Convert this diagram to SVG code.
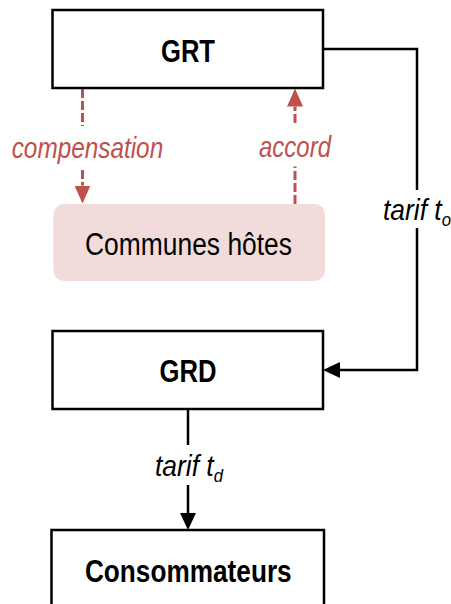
<svg xmlns="http://www.w3.org/2000/svg" width="451" height="604" viewBox="0 0 451 604">
<style>
.box{fill:#ffffff;stroke:#000000;stroke-width:2.5}
.soft{fill:#f2dcdb;stroke:none}
.t{font-family:"Liberation Sans Narrow","Liberation Sans",Arial,sans-serif;font-size:31px;fill:#000000;text-anchor:middle}
.b{font-weight:bold}
.lab{font-family:"Liberation Sans Narrow","Liberation Sans",Arial,sans-serif;font-size:29px;font-style:italic}
.big{font-size:30px}
.sub{font-size:19px}
.red{fill:#c0504d}
.blk{fill:#000000}
.line{fill:none;stroke:#000000;stroke-width:2.5}
.dash{fill:none;stroke:#c0504d;stroke-width:3;stroke-dasharray:9 3}
</style>
<defs>
<marker id="ahk" viewBox="0 0 17 16" refX="0" refY="8" markerWidth="17" markerHeight="16" markerUnits="userSpaceOnUse" orient="auto">
<path d="M0 0 L17 8 L0 16 Z" fill="#000000"/>
</marker>
<marker id="ahr" viewBox="0 0 18 16" refX="0" refY="8" markerWidth="18" markerHeight="16" markerUnits="userSpaceOnUse" orient="auto">
<path d="M0 0 L18 8 L0 16 Z" fill="#c0504d"/>
</marker>
</defs>
<g id="connectors">
<path class="line" d="M323.5 49 H417 V190"/>
<path class="line" d="M417 228 V370 H340" marker-end="url(#ahk)"/>
<path class="line" d="M188 409 V445"/>
<path class="line" d="M188 485 V513" marker-end="url(#ahk)"/>
<path class="dash" d="M82.5 89 V126"/>
<path class="dash" d="M82.5 170 V185.5" marker-end="url(#ahr)"/>
<path class="dash" d="M295 204 V166.5"/>
<path class="dash" d="M295 123 V106.5" marker-end="url(#ahr)"/>
<text class="lab red" x="11.7" y="157.5" textLength="151.5" lengthAdjust="spacingAndGlyphs">compensation</text>
<text class="lab red" x="259" y="157" textLength="72" lengthAdjust="spacingAndGlyphs">accord</text>
<text class="lab big blk" transform="translate(383 220) scale(0.88 1)">tarif t<tspan class="sub" dy="6">o</tspan></text>
<text class="lab big blk" transform="translate(155 476) scale(0.88 1)">tarif t<tspan class="sub" dy="6">d</tspan></text>
</g>
<g id="GRT">
<rect class="box" x="52.5" y="10" width="270.5" height="78"/>
<text class="t b" x="188" y="61.5" textLength="54" lengthAdjust="spacingAndGlyphs">GRT</text>
</g>
<g id="communes">
<rect class="soft" x="53.5" y="204" width="271.5" height="77" rx="10"/>
<text class="t" x="188.5" y="254.5" textLength="207" lengthAdjust="spacingAndGlyphs">Communes hôtes</text>
</g>
<g id="GRD">
<rect class="box" x="52.5" y="331" width="270.5" height="78"/>
<text class="t b" x="188" y="381.5" textLength="57" lengthAdjust="spacingAndGlyphs">GRD</text>
</g>
<g id="consommateurs">
<rect class="box" x="51.5" y="530" width="272.5" height="90"/>
<text class="t b" x="188.3" y="582" textLength="206.7" lengthAdjust="spacingAndGlyphs">Consommateurs</text>
</g>
</svg>
